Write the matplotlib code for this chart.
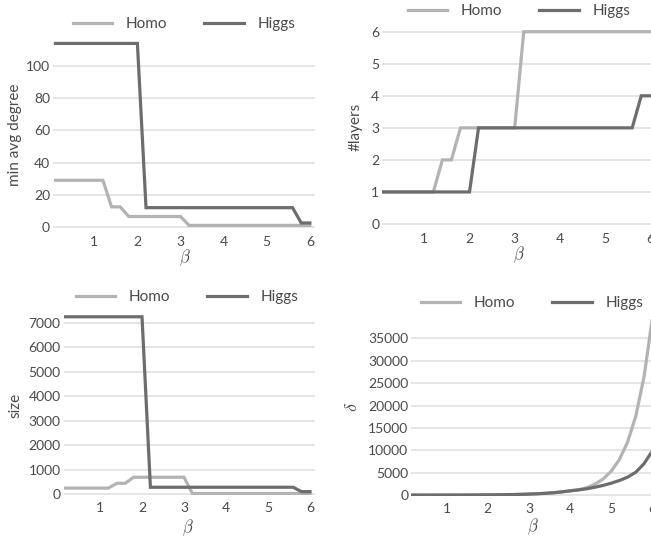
import numpy as np
import matplotlib
matplotlib.use('Agg')
import matplotlib.pyplot as plt

plt.rcParams['font.family'] = ['Lato', 'DejaVu Sans']
plt.rcParams['mathtext.fontset'] = 'cm'

# beta sample points
betas = [0.1, 0.2, 0.4, 0.6, 0.8, 1.0, 1.2, 1.4, 1.6, 1.8, 2.0,
         2.2, 2.4, 2.6, 2.8, 3.0, 3.2, 3.4, 3.6, 3.8, 4.0,
         4.2, 4.4, 4.6, 4.8, 5.0, 5.2, 5.4, 5.6, 5.8, 6.0]

# min avg degree
deg_homo = [29, 29, 29, 29, 29, 29, 29, 12.5, 12.5, 6.5, 6.5,
            6.5, 6.5, 6.5, 6.5, 6.5, 1, 1, 1, 1, 1,
            1, 1, 1, 1, 1, 1, 1, 1, 1, 1]
deg_higgs = [114, 114, 114, 114, 114, 114, 114, 114, 114, 114, 114,
             12, 12, 12, 12, 12, 12, 12, 12, 12, 12,
             12, 12, 12, 12, 12, 12, 12, 12, 2.5, 2.5]

# number of layers
lay_homo = [1, 1, 1, 1, 1, 1, 1, 2, 2, 3, 3,
            3, 3, 3, 3, 3, 6, 6, 6, 6, 6,
            6, 6, 6, 6, 6, 6, 6, 6, 6, 6]
lay_higgs = [1, 1, 1, 1, 1, 1, 1, 1, 1, 1, 1,
             3, 3, 3, 3, 3, 3, 3, 3, 3, 3,
             3, 3, 3, 3, 3, 3, 3, 3, 4, 4]

# size
size_homo = [240, 240, 240, 240, 240, 240, 240, 437, 437, 685, 685,
             685, 685, 685, 685, 685, 20, 20, 20, 20, 20,
             20, 20, 20, 20, 20, 20, 20, 20, 20, 20]
size_higgs = [7245, 7245, 7245, 7245, 7245, 7245, 7245, 7245, 7245, 7245, 7245,
              275, 275, 275, 275, 275, 275, 275, 275, 275, 275,
              275, 275, 275, 275, 275, 275, 275, 275, 95, 95]

# delta
delta_homo = [2, 2, 3, 5, 7, 10, 14, 19, 26, 35, 48,
              65, 88, 120, 165, 225, 300, 400, 520, 700, 950,
              1200, 1600, 2400, 3550, 5300, 7900, 11800, 17600, 26300, 39200]
delta_higgs = [2, 2, 3, 5, 7, 10, 14, 19, 26, 35, 48,
               65, 88, 120, 165, 225, 300, 400, 530, 720, 950,
               1150, 1400, 1750, 2150, 2650, 3250, 4000, 5100, 7000, 9800]

c_homo = '#b3b3b3'
c_higgs = '#6d6d6d'
W, H = 651, 537

fig = plt.figure(figsize=(W / 100, H / 100), dpi=100)


def px_axes(l, t, r, b):
    return fig.add_axes([l / W, 1 - b / H, (r - l) / W, (b - t) / H])


panels = [
    # (left, top, right, bottom px), xlim, ylim, yticks, homo, higgs, ylabel, ylabel pos, xlabel pos, legend pos
    ((52.9, 38.6, 315.0, 228.6), (0.04, 6.12), (-1, 117), [0, 20, 40, 60, 80, 100],
     deg_homo, deg_higgs, 'min avg degree', (15, 135), (185, 258), (184, 24)),
    ((382.0, 25.3, 654.8, 225.6), (0.064, 6.1), (-0.05, 6.2), [0, 1, 2, 3, 4, 5, 6],
     lay_homo, lay_higgs, '#layers', (356, 127), (519, 255), (519, 11)),
    ((63.5, 313.0, 315.0, 495.2), (0.13, 6.12), (-50, 7400), [0, 1000, 2000, 3000, 4000, 5000, 6000, 7000],
     size_homo, size_higgs, 'size', (15, 405), (188, 528), (187, 297)),
    ((411.0, 316.4, 657.1, 496.0), (0.13, 6.12), (-200, 39900), [0, 5000, 10000, 15000, 20000, 25000, 30000, 35000],
     delta_homo, delta_higgs, r'$\delta$', (352, 407), (533, 527), (532, 303)),
]

for box, xl, yl, yt, hom, hig, ylab, ylpos, xlpos, lgpos in panels:
    ax = px_axes(*box)
    ax.plot(betas, hom, color=c_homo, lw=2.3, label='Homo', solid_joinstyle='miter', zorder=3)
    ax.plot(betas, hig, color=c_higgs, lw=2.3, label='Higgs', solid_joinstyle='miter', zorder=3)
    ax.set_xlim(*xl)
    ax.set_ylim(*yl)
    ax.set_xticks([1, 2, 3, 4, 5, 6])
    ax.set_yticks(yt)
    ax.grid(axis='y', color='#dedede', lw=1.1, zorder=0)
    ax.set_axisbelow(True)
    for s in ax.spines.values():
        s.set_visible(False)
    ax.tick_params(length=0, labelsize=10, labelcolor='#4a4a4a')
    ax.tick_params(axis='x', pad=5)
    ax.tick_params(axis='y', pad=2)
    if ylab.startswith('$'):
        ax.set_ylabel(ylab, fontsize=13, color='#4a4a4a', va='center')
    else:
        ax.set_ylabel(ylab, fontsize=11, color='#4a4a4a', va='center')
    ax.yaxis.set_label_coords(ylpos[0] / W, 1 - ylpos[1] / H, transform=fig.transFigure)
    ax.set_xlabel(r'$\beta$', fontsize=12, color='#4a4a4a', va='center')
    ax.xaxis.set_label_coords(xlpos[0] / W, 1 - xlpos[1] / H, transform=fig.transFigure)
    ax.legend(loc='center', bbox_to_anchor=(lgpos[0] / W, 1 - lgpos[1] / H),
              bbox_transform=fig.transFigure, ncol=2, frameon=False,
              fontsize=11, handlelength=2.6, handletextpad=0.9, columnspacing=2.4,
              labelcolor='#4a4a4a', borderaxespad=0, borderpad=0)

fig.savefig('out.png', dpi=100)
